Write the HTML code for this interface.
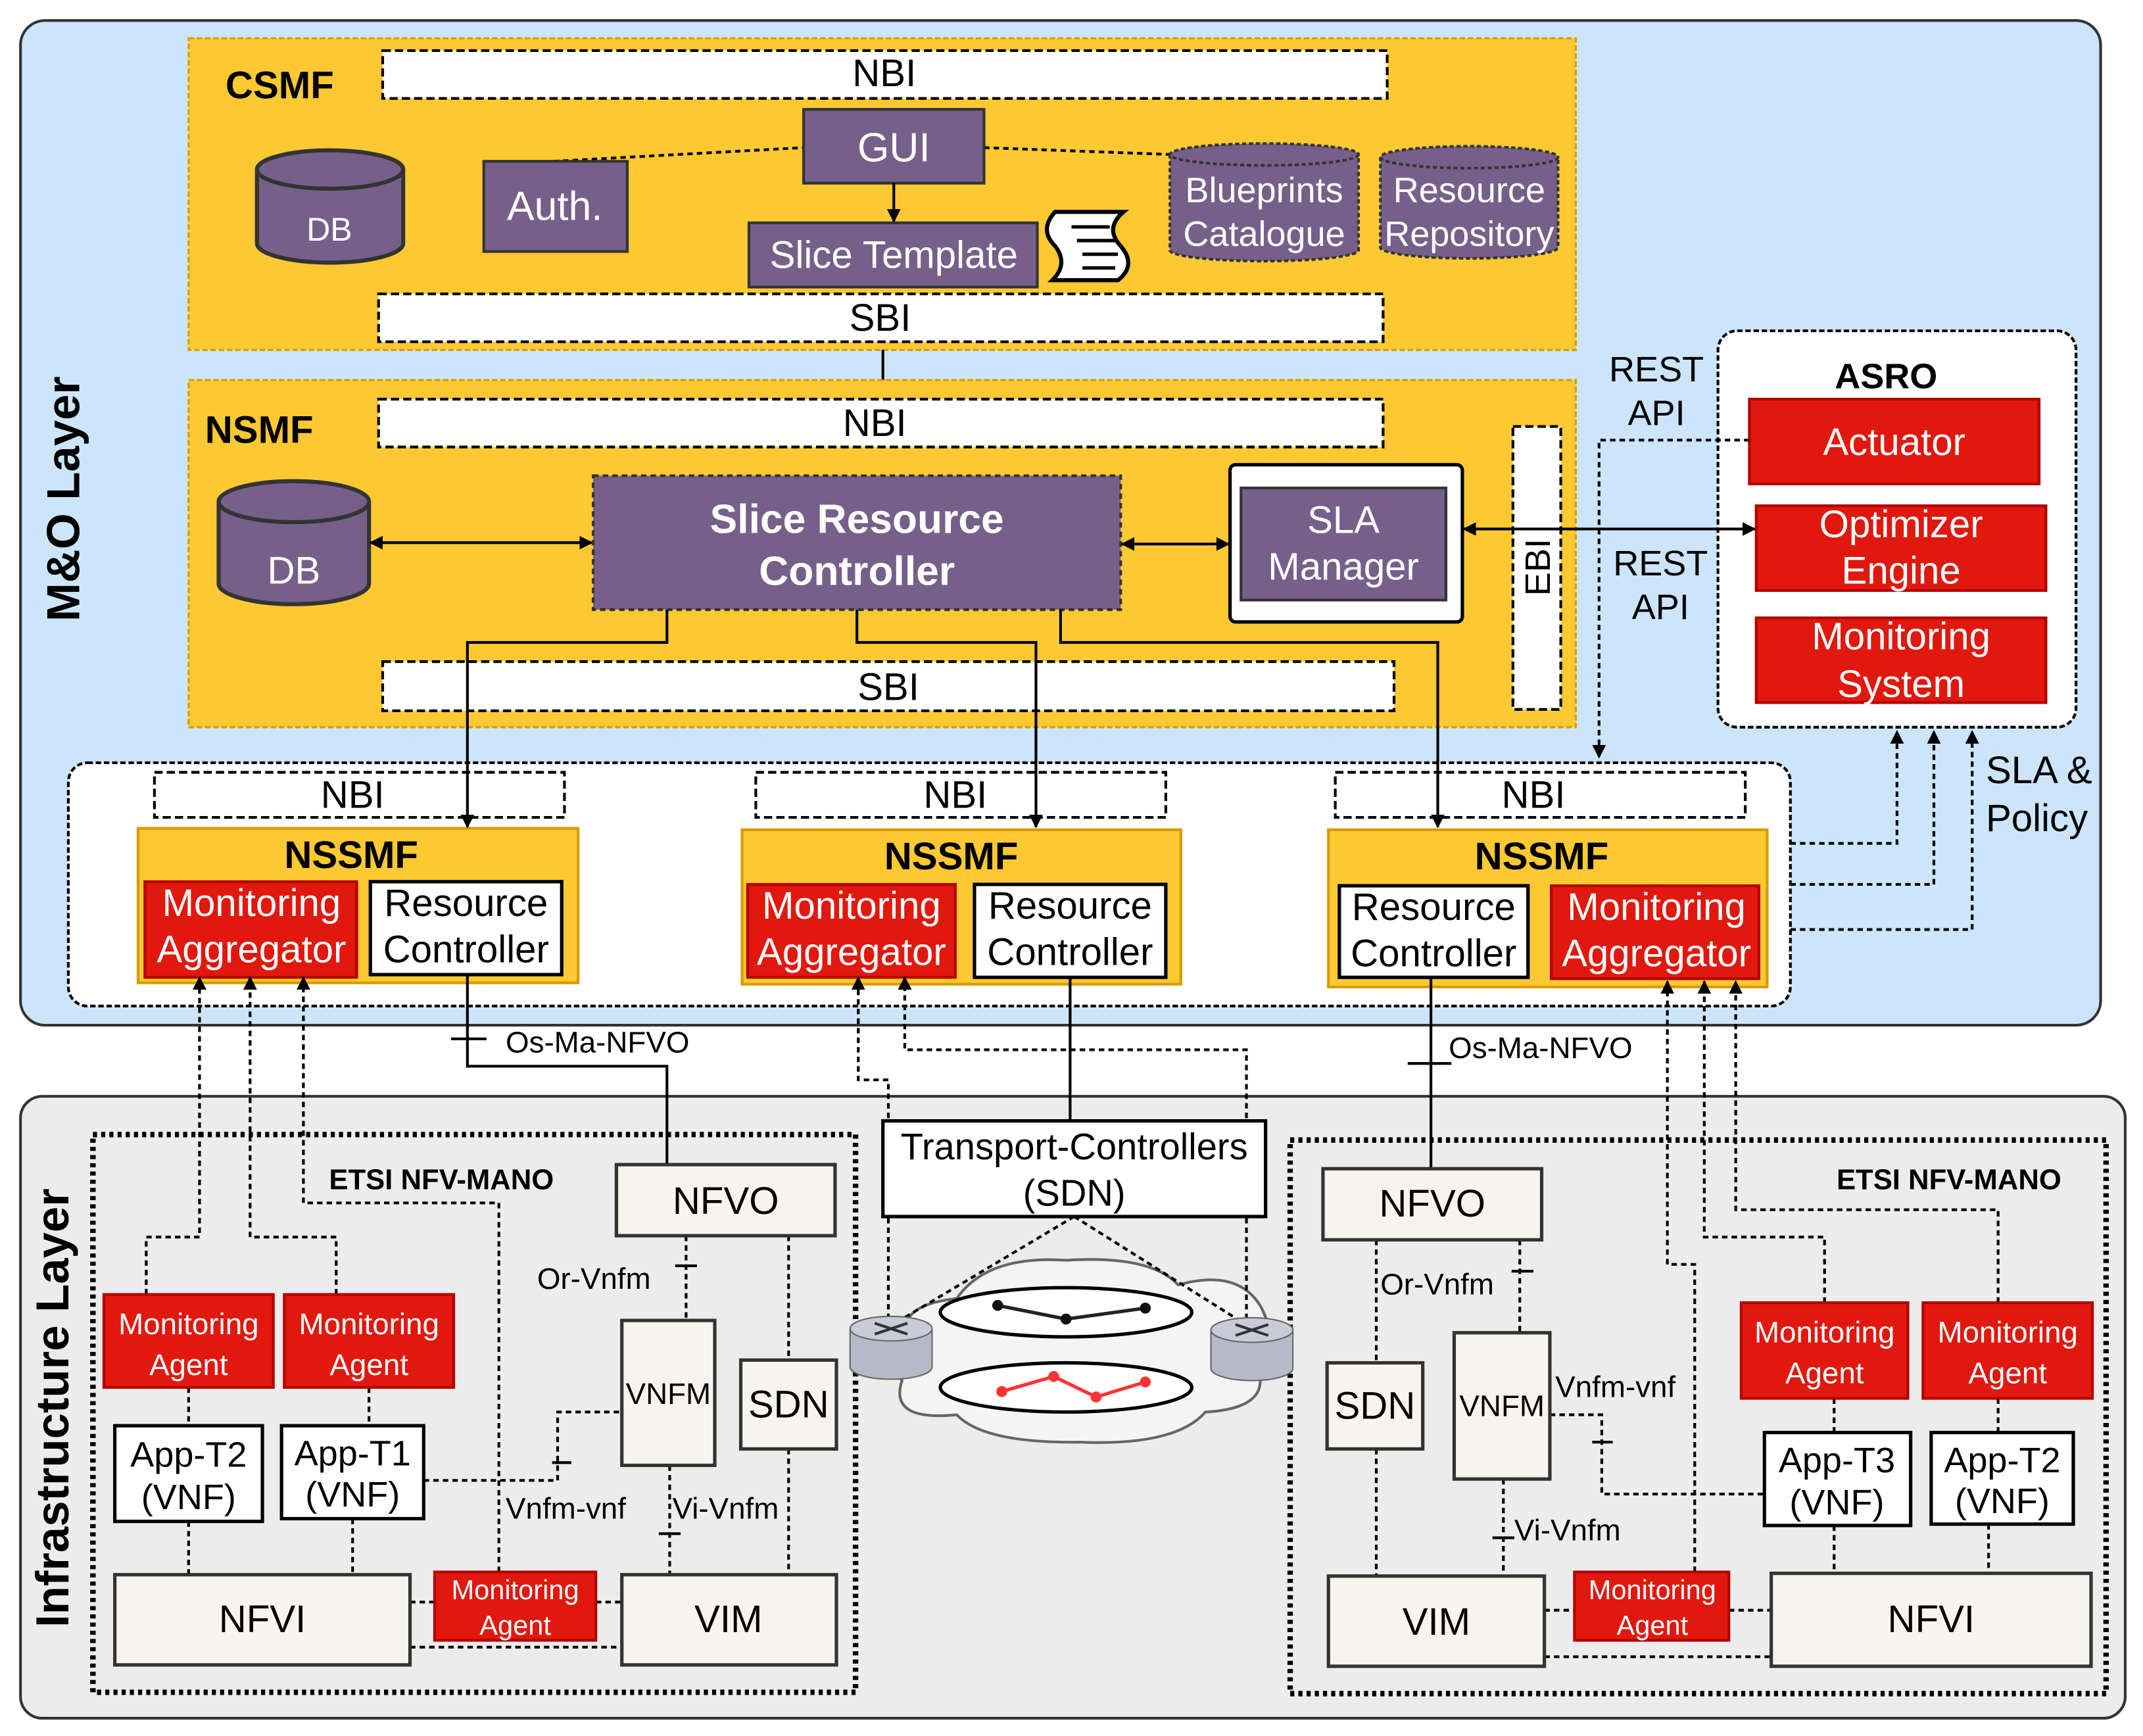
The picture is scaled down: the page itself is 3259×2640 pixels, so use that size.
<!DOCTYPE html>
<html><head><meta charset="utf-8"><style>html,body{margin:0;padding:0;background:#fff}svg{display:block}text{font-family:"Liberation Sans",sans-serif}</style></head><body>
<svg width="3259" height="2640" viewBox="0 0 1568 1270" preserveAspectRatio="none" xmlns="http://www.w3.org/2000/svg">
<defs>
<marker id="a" viewBox="0 0 10 10" refX="9" refY="5" markerWidth="5" markerHeight="5" orient="auto-start-reverse"><path d="M0,0L10,5L0,10z" fill="#000"/></marker>
</defs>
<rect width="1568" height="1270" fill="#fff"/>
<!-- M&O layer -->
<rect x="15" y="15" width="1522" height="735" rx="18" fill="#cce5fb" stroke="#333" stroke-width="2"/>
<text transform="translate(58,365) rotate(-90)" text-anchor="middle" font-size="34" font-weight="bold">M&amp;O Layer</text>
<!-- CSMF -->
<rect x="138" y="28" width="1015" height="228" fill="#fdc932" stroke="#d79b00" stroke-dasharray="4,2" stroke-width="1.5"/>
<text x="165" y="72" font-size="28" font-weight="bold">CSMF</text>
<rect x="280" y="37" width="735" height="35" fill="#fff" stroke="#000" stroke-width="2" stroke-dasharray="6,3"/>
<text x="647" y="63" text-anchor="middle" font-size="28">NBI</text>
<line x1="405" y1="118" x2="588" y2="108" stroke="#000" stroke-width="2" stroke-dasharray="4,3"/>
<line x1="720" y1="108" x2="856" y2="113" stroke="#000" stroke-width="2" stroke-dasharray="4,3"/>
<rect x="588" y="80" width="132" height="54" fill="#76608a" stroke="#333" stroke-width="2"/>
<text x="654" y="118" text-anchor="middle" font-size="30" fill="#fff">GUI</text>
<line x1="654" y1="134" x2="654" y2="162" stroke="#000" stroke-width="2" marker-end="url(#a)"/>
<rect x="354" y="118" width="105" height="66" fill="#76608a" stroke="#333" stroke-width="2"/>
<text x="406" y="161" text-anchor="middle" font-size="30" fill="#fff">Auth.</text>
<g fill="#76608a" stroke="#333" stroke-width="3">
<path d="M188,124 v54 a53,14 0 0 0 107,0 v-54"/><ellipse cx="241.5" cy="124" rx="53.5" ry="14"/>
</g>
<text x="241" y="176" text-anchor="middle" font-size="24" fill="#fff">DB</text>
<rect x="548" y="163" width="211" height="47" fill="#76608a" stroke="#333" stroke-width="2"/>
<text x="654" y="196" text-anchor="middle" font-size="28" fill="#fff">Slice Template</text>
<path d="M772,155 h50 q-14,12 -2,25 q12,14 -2,25 h-48 q12,-12 2,-25 q-12,-12 0,-25z" fill="#fff" stroke="#000" stroke-width="3"/>
<g stroke="#000" stroke-width="2.5"><line x1="784" y1="166" x2="812" y2="166"/><line x1="788" y1="176" x2="816" y2="176"/><line x1="792" y1="186" x2="818" y2="186"/><line x1="792" y1="196" x2="816" y2="196"/></g>
<g fill="#76608a" stroke="#333" stroke-width="2" stroke-dasharray="3,2">
<path d="M856,113 v70 a69,8 0 0 0 138,0 v-70"/><ellipse cx="925" cy="113" rx="69" ry="8"/>
<path d="M1010,115 v66 a65,8 0 0 0 130,0 v-66"/><ellipse cx="1075" cy="115" rx="65" ry="8"/>
</g>
<text x="925" y="148" text-anchor="middle" font-size="26" fill="#fff">Blueprints</text>
<text x="925" y="180" text-anchor="middle" font-size="26" fill="#fff">Catalogue</text>
<text x="1075" y="148" text-anchor="middle" font-size="26" fill="#fff">Resource</text>
<text x="1075" y="180" text-anchor="middle" font-size="26" fill="#fff">Repository</text>
<rect x="277" y="215" width="735" height="35" fill="#fff" stroke="#000" stroke-width="2" stroke-dasharray="6,3"/>
<text x="644" y="242" text-anchor="middle" font-size="28">SBI</text>
<line x1="646" y1="256" x2="646" y2="278" stroke="#000" stroke-width="2"/>
<!-- NSMF -->
<rect x="138" y="278" width="1015" height="254" fill="#fdc932" stroke="#d79b00" stroke-dasharray="4,2" stroke-width="1.5"/>
<text x="150" y="324" font-size="28" font-weight="bold">NSMF</text>
<rect x="277" y="292" width="735" height="35" fill="#fff" stroke="#000" stroke-width="2" stroke-dasharray="6,3"/>
<text x="640" y="319" text-anchor="middle" font-size="28">NBI</text>
<g fill="#76608a" stroke="#333" stroke-width="3">
<path d="M160,367 v60 a55,15 0 0 0 110,0 v-60"/><ellipse cx="215" cy="367" rx="55" ry="15"/>
</g>
<text x="215" y="427" text-anchor="middle" font-size="28" fill="#fff">DB</text>
<line x1="271" y1="397" x2="433" y2="397" stroke="#000" stroke-width="2" marker-start="url(#a)" marker-end="url(#a)"/>
<rect x="434" y="348" width="386" height="98" fill="#76608a" stroke="#333" stroke-width="2" stroke-dasharray="4,3"/>
<text x="627" y="390" text-anchor="middle" font-size="30" font-weight="bold" fill="#fff">Slice Resource</text>
<text x="627" y="428" text-anchor="middle" font-size="30" font-weight="bold" fill="#fff">Controller</text>
<line x1="821" y1="398" x2="899" y2="398" stroke="#000" stroke-width="2" marker-start="url(#a)" marker-end="url(#a)"/>
<rect x="900" y="340" width="170" height="115" rx="4" fill="#fff" stroke="#000" stroke-width="2.5"/>
<rect x="908" y="357" width="150" height="82" fill="#76608a" stroke="#333" stroke-width="2"/>
<text x="983" y="390" text-anchor="middle" font-size="28" fill="#fff">SLA</text>
<text x="983" y="424" text-anchor="middle" font-size="28" fill="#fff">Manager</text>
<rect x="1107" y="312" width="35" height="207" fill="#fff" stroke="#000" stroke-width="2" stroke-dasharray="6,3"/>
<text transform="translate(1134,415) rotate(-90)" text-anchor="middle" font-size="26">EBI</text>
<rect x="280" y="484" width="740" height="36" fill="#fff" stroke="#000" stroke-width="2" stroke-dasharray="6,3"/>
<text x="650" y="512" text-anchor="middle" font-size="28">SBI</text>
<!-- ASRO -->
<rect x="1257" y="242" width="262" height="290" rx="14" fill="#fff" stroke="#000" stroke-width="2" stroke-dasharray="4,2"/>
<text x="1380" y="284" text-anchor="middle" font-size="26" font-weight="bold">ASRO</text>
<g fill="#e0180e" stroke="#b20000" stroke-width="2">
<rect x="1280" y="292" width="212" height="62"/><rect x="1285" y="370" width="212" height="62"/><rect x="1285" y="452" width="212" height="62"/>
</g>
<text x="1386" y="333" text-anchor="middle" font-size="28" fill="#fff">Actuator</text>
<text x="1391" y="393" text-anchor="middle" font-size="28" fill="#fff">Optimizer</text>
<text x="1391" y="427" text-anchor="middle" font-size="28" fill="#fff">Engine</text>
<text x="1391" y="475" text-anchor="middle" font-size="28" fill="#fff">Monitoring</text>
<text x="1391" y="510" text-anchor="middle" font-size="28" fill="#fff">System</text>
<line x1="1071" y1="387" x2="1284" y2="387" stroke="#000" stroke-width="2" marker-start="url(#a)" marker-end="url(#a)"/>
<text x="1212" y="279" text-anchor="middle" font-size="26">REST</text>
<text x="1212" y="311" text-anchor="middle" font-size="26">API</text>
<text x="1215" y="421" text-anchor="middle" font-size="26">REST</text>
<text x="1215" y="453" text-anchor="middle" font-size="26">API</text>
<text x="1453" y="573" font-size="28">SLA &amp;</text>
<text x="1453" y="608" font-size="28">Policy</text>
<!-- NSSMF container -->
<rect x="50" y="558" width="1260" height="178" rx="14" fill="#fff" stroke="#000" stroke-width="2" stroke-dasharray="4,2"/>
<path d="M1280,322 h-110 v232" fill="none" stroke="#000" stroke-width="2" stroke-dasharray="4,3" marker-end="url(#a)"/>
<g fill="none" stroke="#000" stroke-width="2" stroke-dasharray="4,3">
<path d="M1310,617 h78 v-82" marker-end="url(#a)"/>
<path d="M1310,647 h105 v-112" marker-end="url(#a)"/>
<path d="M1310,680 h133 v-145" marker-end="url(#a)"/>
</g>
<g fill="#fff" stroke="#000" stroke-width="2" stroke-dasharray="6,3">
<rect x="113" y="565" width="300" height="33"/><rect x="553" y="565" width="300" height="33"/><rect x="977" y="565" width="300" height="33"/>
</g>
<text x="258" y="591" text-anchor="middle" font-size="28">NBI</text>
<text x="699" y="591" text-anchor="middle" font-size="28">NBI</text>
<text x="1122" y="591" text-anchor="middle" font-size="28">NBI</text>
<g fill="#fdc932" stroke="#d79b00" stroke-width="2">
<rect x="101" y="606" width="322" height="113"/><rect x="543" y="607" width="321" height="113"/><rect x="972" y="607" width="321" height="115"/>
</g>
<g fill="none" stroke="#000" stroke-width="2">
<path d="M488,446 v24 h-146 v135" marker-end="url(#a)"/>
<path d="M627,446 v24 h131 v135" marker-end="url(#a)"/>
<path d="M776,446 v24 h276 v135" marker-end="url(#a)"/>
</g>
<text x="257" y="635" text-anchor="middle" font-size="28" font-weight="bold">NSSMF</text>
<text x="696" y="636" text-anchor="middle" font-size="28" font-weight="bold">NSSMF</text>
<text x="1128" y="636" text-anchor="middle" font-size="28" font-weight="bold">NSSMF</text>
<g fill="#e0180e" stroke="#b20000" stroke-width="2">
<rect x="106" y="645" width="155" height="70"/><rect x="547" y="647" width="152" height="68"/><rect x="1135" y="648" width="152" height="68"/>
</g>
<g fill="#fff" stroke="#000" stroke-width="2.5">
<rect x="271" y="645" width="140" height="68"/><rect x="713" y="647" width="140" height="68"/><rect x="980" y="648" width="138" height="67"/>
</g>
<g font-size="28" text-anchor="middle" fill="#fff">
<text x="184" y="670">Monitoring</text><text x="184" y="704">Aggregator</text>
<text x="623" y="672">Monitoring</text><text x="623" y="706">Aggregator</text>
<text x="1212" y="673">Monitoring</text><text x="1212" y="707">Aggregator</text>
</g>
<g font-size="28" text-anchor="middle">
<text x="341" y="670">Resource</text><text x="341" y="704">Controller</text>
<text x="783" y="672">Resource</text><text x="783" y="706">Controller</text>
<text x="1049" y="673">Resource</text><text x="1049" y="707">Controller</text>
</g>
<!-- Infrastructure layer -->
<rect x="15" y="802" width="1540" height="455" rx="16" fill="#ececec" stroke="#333" stroke-width="2"/>
<text transform="translate(50,1030) rotate(-90)" text-anchor="middle" font-size="34" font-weight="bold">Infrastructure Layer</text>
<rect x="68" y="830" width="558" height="408" fill="none" stroke="#000" stroke-width="4" stroke-dasharray="3,3"/>
<rect x="944" y="834" width="597" height="405" fill="none" stroke="#000" stroke-width="4" stroke-dasharray="3,3"/>
<text x="323" y="870" text-anchor="middle" font-size="21" font-weight="bold">ETSI NFV-MANO</text>
<text x="1426" y="870" text-anchor="middle" font-size="21" font-weight="bold">ETSI NFV-MANO</text>
<!-- solid connectors -->
<g fill="none" stroke="#000" stroke-width="2">
<path d="M342,713 v67 h146 v72"/>
<line x1="330" y1="760" x2="356" y2="760"/>
<path d="M783,715 v105"/>
<path d="M1047,715 v140"/>
<line x1="1030" y1="778" x2="1062" y2="778"/>
</g>
<text x="370" y="770" font-size="22">Os-Ma-NFVO</text>
<text x="1060" y="774" font-size="22">Os-Ma-NFVO</text>
<!-- cloud -->
<path d="M665,985 Q652,955 700,950 Q722,918 780,922 Q842,918 862,940 Q905,928 922,955 Q936,980 918,995 Q935,1030 882,1033 Q860,1058 790,1055 Q720,1056 700,1035 Q650,1040 660,1010 Q646,995 665,985Z" fill="#f4f4f4" stroke="#666" stroke-width="2"/>
<!-- dashed connectors -->
<g fill="none" stroke="#000" stroke-width="2" stroke-dasharray="4,3">
<path d="M107,947 v-42 h39 v-190" marker-end="url(#a)"/>
<path d="M246,947 v-42 h-63 v-190" marker-end="url(#a)"/>
<path d="M365,1150 v-270 h-143 v-165" marker-end="url(#a)"/>
<path d="M650,965 v-175 h-22 v-75" marker-end="url(#a)"/>
<path d="M912,965 v-197 h-250 v-53" marker-end="url(#a)"/>
<path d="M1240,1150 v-225 h-20 v-207" marker-end="url(#a)"/>
<path d="M1335,953 v-48 h-88 v-187" marker-end="url(#a)"/>
<path d="M1462,953 v-68 h-192 v-167" marker-end="url(#a)"/>
<line x1="138" y1="1015" x2="138" y2="1043"/>
<line x1="270" y1="1015" x2="270" y2="1043"/>
<line x1="138" y1="1113" x2="138" y2="1152"/>
<line x1="258" y1="1111" x2="258" y2="1152"/>
<line x1="502" y1="904" x2="502" y2="966"/>
<line x1="577" y1="904" x2="577" y2="995"/>
<line x1="577" y1="1060" x2="577" y2="1152"/>
<line x1="490" y1="1072" x2="490" y2="1152"/>
<path d="M310,1083 h98 v-50 h47"/>
<line x1="300" y1="1172" x2="318" y2="1172"/>
<line x1="436" y1="1172" x2="455" y2="1172"/>
<path d="M300,1205 h155"/>
<line x1="1007" y1="907" x2="1007" y2="997"/>
<line x1="1007" y1="1060" x2="1007" y2="1153"/>
<line x1="1112" y1="907" x2="1112" y2="975"/>
<line x1="1100" y1="1082" x2="1100" y2="1153"/>
<path d="M1134,1035 h38 v58 h119"/>
<line x1="1342" y1="1023" x2="1342" y2="1048"/>
<line x1="1462" y1="1023" x2="1462" y2="1048"/>
<line x1="1342" y1="1116" x2="1342" y2="1151"/>
<line x1="1455" y1="1115" x2="1455" y2="1151"/>
<line x1="1130" y1="1178" x2="1152" y2="1178"/>
<line x1="1265" y1="1178" x2="1296" y2="1178"/>
<path d="M1130,1212 h166"/>
<line x1="786" y1="890" x2="655" y2="968"/>
<line x1="786" y1="890" x2="910" y2="968"/>
</g>
<g stroke="#000" stroke-width="2">
<line x1="494" y1="926" x2="510" y2="926"/><line x1="404" y1="1070" x2="418" y2="1070"/><line x1="482" y1="1122" x2="498" y2="1122"/>
<line x1="1106" y1="930" x2="1122" y2="930"/><line x1="1165" y1="1055" x2="1180" y2="1055"/><line x1="1092" y1="1125" x2="1108" y2="1125"/>
</g>
<g font-size="22">
<text x="393" y="943">Or-Vnfm</text>
<text x="370" y="1111">Vnfm-vnf</text>
<text x="492" y="1111">Vi-Vnfm</text>
<text x="1010" y="947">Or-Vnfm</text>
<text x="1138" y="1022">Vnfm-vnf</text>
<text x="1108" y="1127">Vi-Vnfm</text>
</g>
<g fill="#f6f4ec" stroke="#333" stroke-width="2.5">
<rect x="451" y="852" width="160" height="52"/><rect x="455" y="966" width="68" height="106"/><rect x="542" y="995" width="70" height="65"/>
<rect x="455" y="1152" width="157" height="66"/><rect x="84" y="1152" width="216" height="66"/>
<rect x="968" y="855" width="160" height="52"/><rect x="971" y="997" width="70" height="63"/><rect x="1064" y="975" width="70" height="107"/>
<rect x="972" y="1153" width="158" height="66"/><rect x="1296" y="1151" width="234" height="68"/>
</g>
<g fill="#fff" stroke="#000" stroke-width="2.5">
<rect x="84" y="1043" width="108" height="70"/><rect x="206" y="1043" width="104" height="68"/>
<rect x="1291" y="1048" width="107" height="68"/><rect x="1413" y="1048" width="104" height="67"/>
<rect x="646" y="820" width="280" height="70"/>
</g>
<g fill="#e0180e" stroke="#b20000" stroke-width="2">
<rect x="76" y="947" width="124" height="68"/><rect x="208" y="947" width="124" height="68"/><rect x="318" y="1150" width="118" height="50"/>
<rect x="1274" y="953" width="122" height="70"/><rect x="1407" y="953" width="124" height="70"/><rect x="1152" y="1150" width="113" height="50"/>
</g>
<g font-size="28" text-anchor="middle">
<text x="531" y="888">NFVO</text><text x="577" y="1037">SDN</text><text x="533" y="1194">VIM</text><text x="192" y="1194">NFVI</text>
<text x="1048" y="890">NFVO</text><text x="1006" y="1038">SDN</text><text x="1051" y="1196">VIM</text><text x="1413" y="1194">NFVI</text>
<text x="786" y="848" font-size="27">Transport-Controllers</text><text x="786" y="882" font-size="27">(SDN)</text>
</g>
<g font-size="22" text-anchor="middle">
<text x="489" y="1027">VNFM</text><text x="1099" y="1036">VNFM</text>
</g>
<g font-size="26" text-anchor="middle">
<text x="138" y="1073">App-T2</text><text x="138" y="1104">(VNF)</text>
<text x="258" y="1072">App-T1</text><text x="258" y="1102">(VNF)</text>
<text x="1344" y="1077">App-T3</text><text x="1344" y="1108">(VNF)</text>
<text x="1465" y="1077">App-T2</text><text x="1465" y="1107">(VNF)</text>
</g>
<g font-size="22" text-anchor="middle" fill="#fff">
<text x="138" y="976">Monitoring</text><text x="138" y="1006">Agent</text>
<text x="270" y="976">Monitoring</text><text x="270" y="1006">Agent</text>
<text x="377" y="1170" font-size="20">Monitoring</text><text x="377" y="1196" font-size="20">Agent</text>
<text x="1335" y="982">Monitoring</text><text x="1335" y="1012">Agent</text>
<text x="1469" y="982">Monitoring</text><text x="1469" y="1012">Agent</text>
<text x="1209" y="1170" font-size="20">Monitoring</text><text x="1209" y="1196" font-size="20">Agent</text>
</g>
<ellipse cx="780" cy="960" rx="92" ry="18" fill="#fff" stroke="#000" stroke-width="2.5"/>
<ellipse cx="780" cy="1015" rx="92" ry="18" fill="#fff" stroke="#000" stroke-width="2.5"/>
<polyline points="730,955 780,965 838,957" fill="none" stroke="#222" stroke-width="2.5"/>
<g fill="#111"><circle cx="730" cy="955" r="4"/><circle cx="780" cy="965" r="4"/><circle cx="838" cy="957" r="4"/></g>
<polyline points="733,1018 771,1007 802,1022 838,1011" fill="none" stroke="#f33" stroke-width="2.5"/>
<g fill="#f33"><circle cx="733" cy="1018" r="4"/><circle cx="771" cy="1007" r="4"/><circle cx="802" cy="1022" r="4"/><circle cx="838" cy="1011" r="4"/></g>
<g fill="#b6bac8" stroke="#666" stroke-width="1">
<path d="M622,972 v28 a30,9 0 0 0 60,0 v-28"/><ellipse cx="652" cy="972" rx="30" ry="9" fill="#c8ccd8"/>
<path d="M886,973 v28 a30,9 0 0 0 60,0 v-28"/><ellipse cx="916" cy="973" rx="30" ry="9" fill="#c8ccd8"/>
</g>
<g stroke="#333" stroke-width="2"><line x1="640" y1="968" x2="664" y2="976"/><line x1="640" y1="976" x2="664" y2="968"/><line x1="904" y1="969" x2="928" y2="977"/><line x1="904" y1="977" x2="928" y2="969"/></g>
</svg>
</body></html>
